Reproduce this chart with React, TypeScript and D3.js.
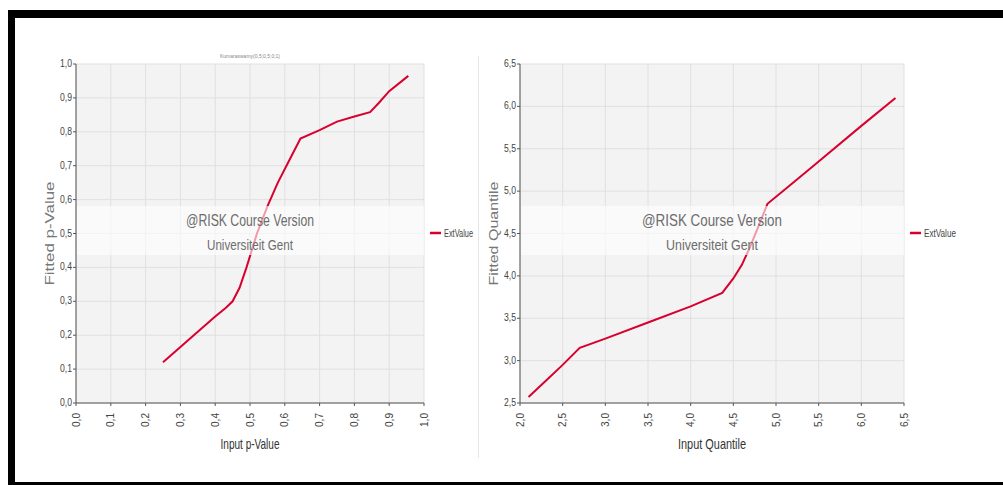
import React from 'react';
import * as d3 from 'd3';

// Left chart: P-P plot
const ppInput = [0.25, 0.3, 0.35, 0.4, 0.43, 0.45, 0.47, 0.49, 0.52, 0.55, 0.58, 0.61, 0.645, 0.7, 0.75, 0.8, 0.845, 0.87, 0.9, 0.955];
const ppFitted = [0.12, 0.165, 0.21, 0.255, 0.28, 0.3, 0.34, 0.4, 0.5, 0.58, 0.65, 0.71, 0.78, 0.805, 0.83, 0.845, 0.858, 0.885, 0.92, 0.965];
const ppTicks = [0, 0.1, 0.2, 0.3, 0.4, 0.5, 0.6, 0.7, 0.8, 0.9, 1.0];

// Right chart: Q-Q plot
const qqInput = [2.1, 2.3, 2.5, 2.7, 3.0, 3.5, 4.0, 4.37, 4.5, 4.6, 4.7, 4.8, 4.9, 5.2, 5.5, 6.0, 6.4];
const qqFitted = [2.57, 2.76, 2.95, 3.15, 3.26, 3.45, 3.64, 3.8, 3.97, 4.13, 4.35, 4.6, 4.85, 5.1, 5.35, 5.77, 6.1];
const qqXTicks = [2.0, 2.5, 3.0, 3.5, 4.0, 4.5, 5.0, 5.5, 6.0, 6.5];
const qqYTicks = [2.5, 3.0, 3.5, 4.0, 4.5, 5.0, 5.5, 6.0, 6.5];

const seriesName = 'ExtValue';
const lineColor = '#d8002e';
const sans = '"Liberation Sans", Arial, sans-serif';
const fmt = (v: number) => v.toFixed(1).replace('.', ',');

type PlotProps = {
  xs: number[];
  ys: number[];
  xTicks: number[];
  yTicks: number[];
  xDomain: [number, number];
  yDomain: [number, number];
  left: number;
  right: number;
  xTitle: string;
  yTitle: string;
  title?: string;
  // widths of the squeezed texts
  markW: number;
  uniW: number;
  xTitleW: number;
  legendW: number;
};

const top = 64;
const bottom = 403;

const Plot = (p: PlotProps) => {
  const { xs, ys, xTicks, yTicks, xDomain, yDomain, left, right } = p;
  const x = d3.scaleLinear().domain(xDomain).range([left, right]);
  const y = d3.scaleLinear().domain(yDomain).range([bottom, top]);
  const line = d3.line<number>()
    .x((d, i) => x(xs[i]))
    .y(d => y(d));
  const cx = (left + right) / 2;

  return (
    <g>
      {p.title && (
        <text x={cx} y={58} fontSize={5} textAnchor="middle" fill="#888" fontFamily={sans}>{p.title}</text>
      )}
      <rect x={left} y={top} width={right - left} height={bottom - top} fill="#f3f3f3" />
      {xTicks.map(t => (
        <line key={'gx' + t} x1={x(t)} x2={x(t)} y1={top} y2={bottom} stroke="#e0e0e0" />
      ))}
      {yTicks.map(t => (
        <line key={'gy' + t} x1={left} x2={right} y1={y(t)} y2={y(t)} stroke="#e0e0e0" />
      ))}
      <path d={line(ys) || ''} fill="none" stroke={lineColor} strokeWidth={2} />
      {/* watermark band */}
      <rect x={left + 1} y={206} width={right - left - 1} height={49} fill="#fff" opacity={0.6} />
      <text x={cx} y={226} fontSize={17} textAnchor="middle" fill="#6c6c6c" fontFamily={sans}
        textLength={p.markW} lengthAdjust="spacingAndGlyphs">@RISK Course Version</text>
      <text x={cx} y={250} fontSize={14} textAnchor="middle" fill="#6c6c6c" fontFamily={sans}
        textLength={p.uniW} lengthAdjust="spacingAndGlyphs">Universiteit Gent</text>
      {/* axes */}
      <line x1={left} x2={left} y1={top} y2={bottom} stroke="#555" />
      <line x1={left} x2={right} y1={bottom} y2={bottom} stroke="#555" />
      {yTicks.map(t => (
        <g key={'ty' + t}>
          <line x1={left - 3} x2={left} y1={y(t)} y2={y(t)} stroke="#555" />
          <text x={left - 4} y={y(t) + 3} fontSize={10} textAnchor="end" fill="#444" fontFamily={sans}
            textLength={12} lengthAdjust="spacingAndGlyphs">{fmt(t)}</text>
        </g>
      ))}
      {xTicks.map(t => (
        <g key={'tx' + t}>
          <line x1={x(t)} x2={x(t)} y1={bottom} y2={bottom + 3} stroke="#555" />
          <text transform={`translate(${x(t) + 3.5},${bottom + 10}) rotate(-90)`} fontSize={10} textAnchor="end" fill="#444"
            fontFamily={sans} textLength={14} lengthAdjust="spacingAndGlyphs">{fmt(t)}</text>
        </g>
      ))}
      <text x={cx} y={449} fontSize={15} textAnchor="middle" fill="#333" fontFamily={sans}
        textLength={p.xTitleW} lengthAdjust="spacingAndGlyphs">{p.xTitle}</text>
      <text transform={`translate(${left - 22},${(top + bottom) / 2}) rotate(-90)`} fontSize={13} textAnchor="middle"
        fill="#777" fontFamily={sans} textLength={104} lengthAdjust="spacingAndGlyphs">{p.yTitle}</text>
      {/* legend */}
      <line x1={right + 6} x2={right + 17} y1={233} y2={233} stroke={lineColor} strokeWidth={2.5} />
      <text x={right + 20} y={236.5} fontSize={10} fill="#444" fontFamily={sans}
        textLength={p.legendW} lengthAdjust="spacingAndGlyphs">{seriesName}</text>
    </g>
  );
};

export default function App() {
  return (
    <svg width={1003} height={485} style={{ position: 'absolute', left: 0, top: 0, background: '#fff' }}>
      <rect x={0} y={0} width={1003} height={485} fill="#fff" />
      {/* frame */}
      <rect x={8} y={10} width={995} height={8} fill="#000" />
      <rect x={8} y={10} width={7} height={475} fill="#000" />
      <rect x={8} y={482} width={995} height={3} fill="#000" />
      <line x1={478.5} x2={478.5} y1={56} y2={458} stroke="#e6e6e6" />
      <Plot
        xs={ppInput}
        ys={ppFitted}
        xTicks={ppTicks}
        yTicks={ppTicks}
        xDomain={[0, 1]}
        yDomain={[0, 1]}
        left={76}
        right={424}
        xTitle="Input p-Value"
        yTitle="Fitted p-Value"
        title="Kumaraswamy(0,5;0,5;0;1)"
        markW={128}
        uniW={86}
        xTitleW={59}
        legendW={29}
      />
      <Plot
        xs={qqInput}
        ys={qqFitted}
        xTicks={qqXTicks}
        yTicks={qqYTicks}
        xDomain={[2, 6.5]}
        yDomain={[2.5, 6.5]}
        left={520}
        right={904}
        xTitle="Input Quantile"
        yTitle="Fitted Quantile"
        markW={140}
        uniW={92}
        xTitleW={68}
        legendW={32}
      />
    </svg>
  );
}
